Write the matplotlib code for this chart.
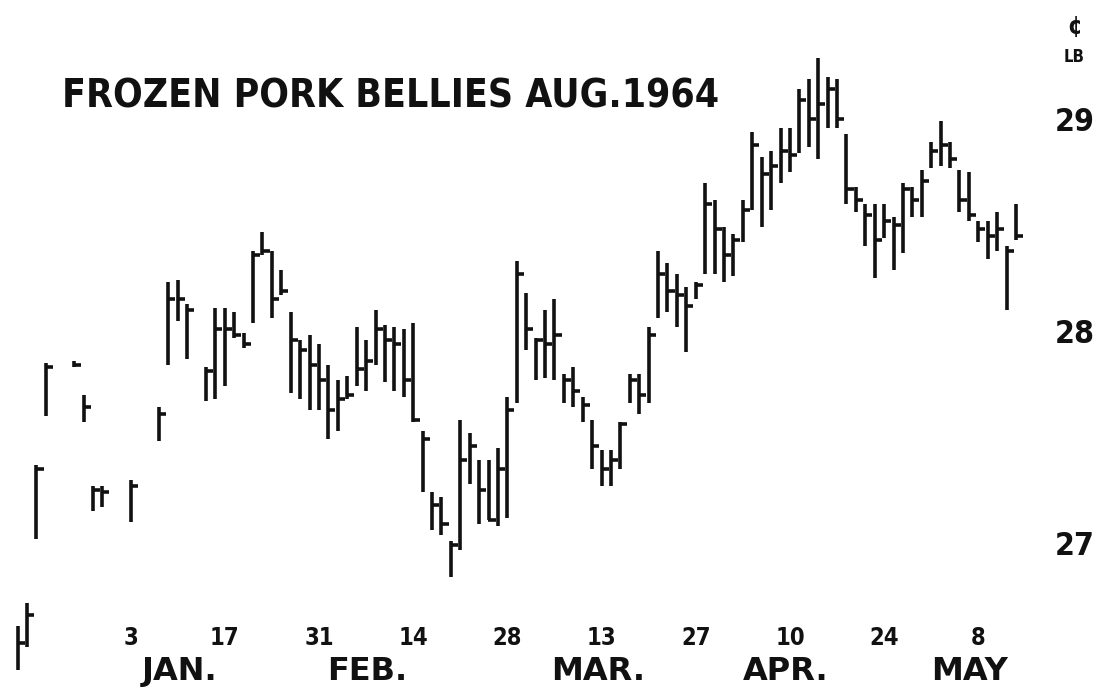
import matplotlib
matplotlib.use("Agg")
import matplotlib.pyplot as plt
from matplotlib import font_manager as fm
from matplotlib.transforms import ScaledTranslation

# Trading-day number (0 = Friday Jan 3, 1964) with daily high, low and close, cents per lb
day = [-12, -11, -10, -9, -6, -5, -4, -3, 0, 3, 4, 5, 6,
       8, 9, 10, 11, 12, 13, 14, 15, 16, 17, 18, 19, 20, 21, 22, 23, 24, 25, 26, 27,
       28, 29, 30, 31, 32, 33, 34, 35, 36, 37, 38, 39, 40, 41, 42, 43, 44, 45, 46, 47,
       48, 49, 50, 51, 52, 53, 54, 55, 56, 57, 58, 59, 60, 61, 62, 63, 64, 65, 66, 67,
       68, 69, 70, 71, 72, 73, 74, 75, 76, 77, 78, 79, 80, 81, 82, 83, 84, 85, 86, 87,
       88, 89, 90, 91, 92, 93, 94]

high = [26.59, 26.70, 27.35, 27.83, 27.84, 27.68, 27.25, 27.25, 27.28, 27.62, 28.21, 28.22, 28.11,
        27.81, 28.09, 28.09, 28.07, 27.97, 28.36, 28.45, 28.36, 28.27, 28.07, 27.94, 27.96, 27.92,
        27.82, 27.75, 27.77, 28.00, 27.94, 28.08, 28.01, 28.00, 27.99, 28.02, 27.51, 27.22, 27.20,
        26.99, 27.56, 27.50, 27.37, 27.37, 27.43, 27.67, 28.31, 28.16, 27.95, 28.08, 28.13, 27.78,
        27.81, 27.67, 27.56, 27.42, 27.42, 27.55, 27.78, 27.78, 28.00, 28.36, 28.30, 28.25, 28.19,
        28.21, 28.68, 28.60, 28.47, 28.44, 28.60, 28.92, 28.80, 28.83, 28.94, 28.94, 29.12, 29.17,
        29.27, 29.18, 29.17, 28.91, 28.66, 28.58, 28.58, 28.58, 28.52, 28.68, 28.66, 28.74, 28.87,
        28.97, 28.87, 28.74, 28.73, 28.50, 28.50, 28.54, 28.38, 28.58]

low = [26.38, 26.49, 27.00, 27.58, 27.81, 27.55, 27.13, 27.15, 27.08, 27.46, 27.82, 28.03, 27.85,
       27.65, 27.66, 27.72, 27.95, 27.90, 28.02, 28.34, 28.04, 28.15, 27.69, 27.66, 27.61, 27.61,
       27.47, 27.51, 27.66, 27.72, 27.70, 27.82, 27.74, 27.70, 27.67, 27.55, 27.22, 27.04, 27.02,
       26.82, 26.95, 27.26, 27.07, 27.09, 27.06, 27.10, 27.64, 27.89, 27.75, 27.76, 27.75, 27.64,
       27.62, 27.55, 27.33, 27.25, 27.25, 27.33, 27.64, 27.59, 27.64, 28.04, 28.07, 28.00, 27.88,
       28.13, 28.25, 28.25, 28.21, 28.24, 28.40, 28.55, 28.47, 28.55, 28.68, 28.73, 28.82, 28.85,
       28.79, 28.94, 28.94, 28.58, 28.54, 28.38, 28.23, 28.42, 28.27, 28.35, 28.52, 28.52, 28.75,
       28.76, 28.75, 28.54, 28.50, 28.40, 28.32, 28.36, 28.08, 28.41]

close = [26.51, 26.64, 27.33, 27.81, 27.82, 27.62, 27.23, 27.22, 27.25, 27.59, 28.13, 28.13, 28.08,
         27.79, 27.99, 27.99, 27.96, 27.92, 28.34, 28.36, 28.13, 28.17, 27.94, 27.89, 27.82, 27.75,
         27.61, 27.66, 27.68, 27.80, 27.84, 27.99, 27.94, 27.92, 27.75, 27.56, 27.47, 27.16, 27.07,
         26.97, 27.37, 27.44, 27.23, 27.09, 27.33, 27.61, 28.25, 27.99, 27.94, 27.92, 27.96, 27.75,
         27.70, 27.63, 27.44, 27.33, 27.37, 27.54, 27.75, 27.68, 27.96, 28.25, 28.17, 28.15, 28.10,
         28.20, 28.58, 28.46, 28.34, 28.41, 28.55, 28.86, 28.72, 28.76, 28.83, 28.81, 29.07, 28.98,
         29.05, 29.12, 28.98, 28.65, 28.60, 28.53, 28.41, 28.50, 28.48, 28.65, 28.60, 28.69, 28.83,
         28.86, 28.79, 28.60, 28.53, 28.46, 28.43, 28.46, 28.36, 28.43]

tick_days = [0, 10, 20, 30, 40, 50, 60, 70, 80, 90]
tick_labels = ["3", "17", "31", "14", "28", "13", "27", "10", "24", "8"]
month_labels = ["JAN.", "FEB.", "MAR.", "APR.", "MAY"]
month_days = [5.2, 25.1, 49.6, 69.5, 89.1]
price_ticks = [27, 28, 29]
title = "FROZEN PORK BELLIES AUG.1964"

INK = "#111111"

# pick a narrow bold face if one is installed
fonts = fm.fontManager.ttflist
names = {f.name for f in fonts}
font_kw = {"family": "DejaVu Sans", "weight": "bold"}
if "Liberation Sans Narrow" in names:
    font_kw = {"family": "Liberation Sans Narrow", "weight": "bold"}
elif any(f.name == "DejaVu Sans" and f.stretch != "normal" for f in fonts):
    font_kw = {"family": "DejaVu Sans", "weight": "bold", "stretch": "condensed"}
elif "Roboto Condensed" in names:
    font_kw = {"family": "Roboto Condensed", "weight": "bold"}
elif "Lato" in names:
    font_kw = {"family": "Lato", "weight": "bold"}
wide_kw = {"family": "DejaVu Sans", "weight": "bold"}

fig = plt.figure(figsize=(11, 6.89), dpi=100)
ax = fig.add_axes([0, 0, 1, 1])
ax.set_xlim(-13.87, 102.92)
ax.set_ylim(26.292, 29.542)
ax.axis("off")

# high-low bars with the close tick on the right
ax.vlines(day, low, high, colors=INK, linewidth=2.6)
ax.hlines(close, [d - 0.05 for d in day], [d + 0.75 for d in day], colors=INK, linewidth=2.6)

renderer = fig.canvas.get_renderer()


def fit_width(t, width_px):
    w = t.get_window_extent(renderer).width
    t.set_fontsize(t.get_fontsize() * width_px / w)


xt = ax.get_xaxis_transform()
yt = ax.get_yaxis_transform()

# title
t = ax.text(62 / 1100, 1 - 107 / 689, title, transform=ax.transAxes,
            ha="left", va="baseline", color=INK, fontsize=30, **font_kw)
fit_width(t, 654)

# day-of-month labels
for d, lab in zip(tick_days, tick_labels):
    ax.text(d, 1 - 645 / 689, lab, transform=xt, ha="center", va="baseline",
            color=INK, fontsize=17, **font_kw)

# month names
for d, lab in zip(month_days, month_labels):
    ax.text(d, 1 - 680 / 689, lab, transform=xt, ha="center", va="baseline",
            color=INK, fontsize=23, **wide_kw)

# price scale on the right
drop = ScaledTranslation(0, -16 / 100, fig.dpi_scale_trans)
for p in price_ticks:
    t = ax.text(1075 / 1100, p, f"{p}", transform=yt + drop, ha="center", va="baseline",
                color=INK, fontsize=26, **font_kw)
    fit_width(t, 40)

ax.text(1075 / 1100, 1 - 34 / 689, "¢", transform=ax.transAxes, ha="center",
        va="baseline", color=INK, fontsize=17, **font_kw)
ax.text(1074 / 1100, 1 - 62 / 689, "LB", transform=ax.transAxes, ha="center",
        va="baseline", color=INK, fontsize=12, **font_kw)

fig.savefig("out.png", dpi=100, facecolor="white")
